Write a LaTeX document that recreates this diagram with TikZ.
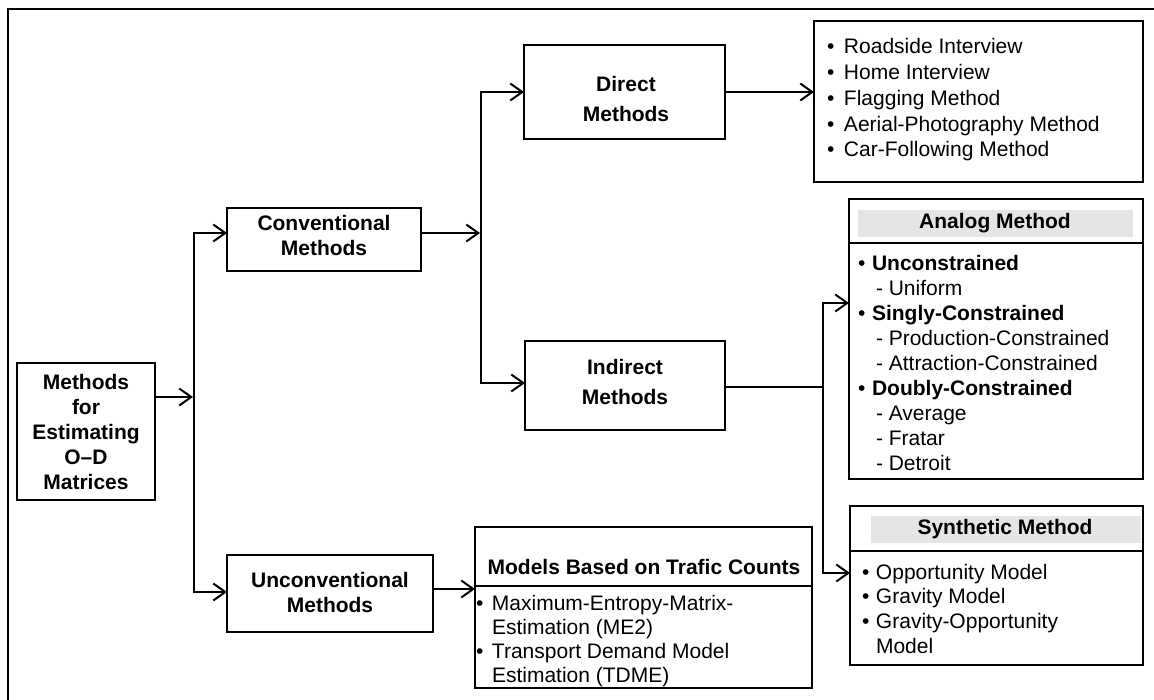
\documentclass[tikz,border=0pt]{standalone}
\usepackage{fontspec}
\setmainfont{Liberation Sans}
\usetikzlibrary{arrows.meta}
\begin{document}
\begin{tikzpicture}[x=1pt,y=-1pt,
  box/.style={draw, line width=2.9pt, inner sep=0pt, outer sep=0pt, anchor=north west},
  ctext/.style={align=center, inner sep=0pt, font=\fontsize{21}{25}\selectfont\bfseries},
  ctextw/.style={align=center, inner sep=0pt, font=\fontsize{21}{30}\selectfont\bfseries},
  htext/.style={inner sep=0pt, font=\fontsize{21}{25}\selectfont\bfseries},
  lst/.style={anchor=base west, inner sep=0pt, outer sep=0pt},
  conn/.style={line width=2.2pt},
  tip/.tip={Straight Barb[length=12pt,width=17pt,line width=2pt]},
  arr/.style={conn, -tip},
  both/.style={conn, tip-tip},
  hdr/.style={fill=black!10, draw=none}
]
\useasboundingbox (0,0) rectangle (1154,700);
% outer frame (cut off at right and bottom)
\draw[line width=2.2pt] (8,700) -- (8,9) -- (1154,9);

% boxes
\node[box, minimum width=138pt, minimum height=137pt] (src) at (17,363) {};
\node[box, minimum width=194pt, minimum height=63pt] (conv) at (227,208) {};
\node[box, minimum width=206pt, minimum height=77pt] (unconv) at (227,555) {};
\node[box, minimum width=201pt, minimum height=94pt] (direct) at (524,45) {};
\node[box, minimum width=200pt, minimum height=89pt] (indirect) at (525,341) {};
\node[box, minimum width=329pt, minimum height=161pt] (dlist) at (814,21) {};
\node[box, minimum width=294pt, minimum height=280pt] (analog) at (849,199) {};
\node[box, minimum width=293pt, minimum height=159pt] (synth) at (850,506) {};
\node[box, minimum width=337pt, minimum height=161pt] (models) at (475,527) {};

% header fills and separators
\fill[hdr] (858,210) rectangle (1133,237);
\fill[hdr] (871,516) rectangle (1141,543);
\draw[line width=2.9pt] (analog.west |- 0,243) -- (analog.east |- 0,243);
\draw[line width=2.9pt] (synth.west |- 0,551) -- (synth.east |- 0,551);
\draw[line width=2.9pt] (models.west |- 0,586) -- (models.east |- 0,586);

% box texts
\node[ctext] (srcT) at (86,432) {Methods\\for\\Estimating\\O–D\\Matrices};
\node[ctext] (convT) at (324,235) {Conventional\\Methods};
\node[ctext] (unconvT) at (330,592) {Unconventional\\Methods};
\node[ctextw] (directT) at (626,99) {Direct\\Methods};
\node[ctextw] (indirectT) at (625,382) {Indirect\\Methods};

\node[htext] (analogH) at (995,223) {Analog Method};
\node[htext] (synthH) at (1005,529) {Synthetic Method};
\node[htext] (modelsH) at (644,567) {Models Based on Trafic Counts};

% lists
\node[lst] (dlistT) at (827,54) {\parbox[t]{320pt}{\raggedright\fontsize{21}{25.7}\selectfont
  \makebox[17pt][l]{•}Roadside Interview\\
  \makebox[17pt][l]{•}Home Interview\\
  \makebox[17pt][l]{•}Flagging Method\\
  \makebox[17pt][l]{•}Aerial-Photography Method\\
  \makebox[17pt][l]{•}Car-Following Method}};

\node[lst] (analogT) at (858,271) {\parbox[t]{285pt}{\raggedright\fontsize{21}{24.9}\selectfont
  \makebox[14pt][l]{•}\textbf{Unconstrained}\\
  \hspace*{18pt}- Uniform\\
  \makebox[14pt][l]{•}\textbf{Singly-Constrained}\\
  \hspace*{18pt}- Production-Constrained\\
  \hspace*{18pt}- Attraction-Constrained\\
  \makebox[14pt][l]{•}\textbf{Doubly-Constrained}\\
  \hspace*{18pt}- Average\\
  \hspace*{18pt}- Fratar\\
  \hspace*{18pt}- Detroit}};

\node[lst] (synthT) at (862,579) {\parbox[t]{280pt}{\raggedright\fontsize{21}{24.7}\selectfont
  \makebox[14pt][l]{•}Opportunity Model\\
  \makebox[14pt][l]{•}Gravity Model\\
  \makebox[14pt][l]{•}Gravity-Opportunity\\
  \hspace*{14pt}Model}};

\node[lst] (modelsT) at (476,610) {\parbox[t]{330pt}{\raggedright\fontsize{21}{24}\selectfont
  \makebox[16pt][l]{•}Maximum-Entropy-Matrix-\\
  \hspace*{16pt}Estimation (ME2)\\
  \makebox[16pt][l]{•}Transport Demand Model\\
  \hspace*{16pt}Estimation (TDME)}};

% junction coordinates
\coordinate (j1) at (194,397);
\coordinate (j1a) at (194,233);
\coordinate (j1b) at (194,592);
\coordinate (j2m) at (481,233);
\coordinate (j2a) at (481,92);
\coordinate (j2b) at (481,383);
\coordinate (j3m) at (823,387);
\coordinate (j3a) at (823,303);
\coordinate (j3b) at (823,573);
\coordinate (m1) at (475,589);

% connectors
\draw[arr] (src.east |- j1) -- ([xshift=-1pt]j1);
\draw[both] (conv.west |- j1a) -- (j1a) -- (j1b) -- (unconv.west |- j1b);
\draw[arr] (conv.east |- j2m) -- ([xshift=-1pt]j2m);
\draw[both] (direct.west |- j2a) -- (j2a) -- (j2b) -- (indirect.west |- j2b);
\draw[arr] (direct.east |- j2a) -- (dlist.west |- j2a);
\draw[conn] (indirect.east |- j3m) -- (j3m);
\draw[both] (analog.west |- j3a) -- (j3a) -- (j3b) -- (synth.west |- j3b);
\draw[arr] (unconv.east |- m1) -- (models.west |- m1);
\end{tikzpicture}
\end{document}
